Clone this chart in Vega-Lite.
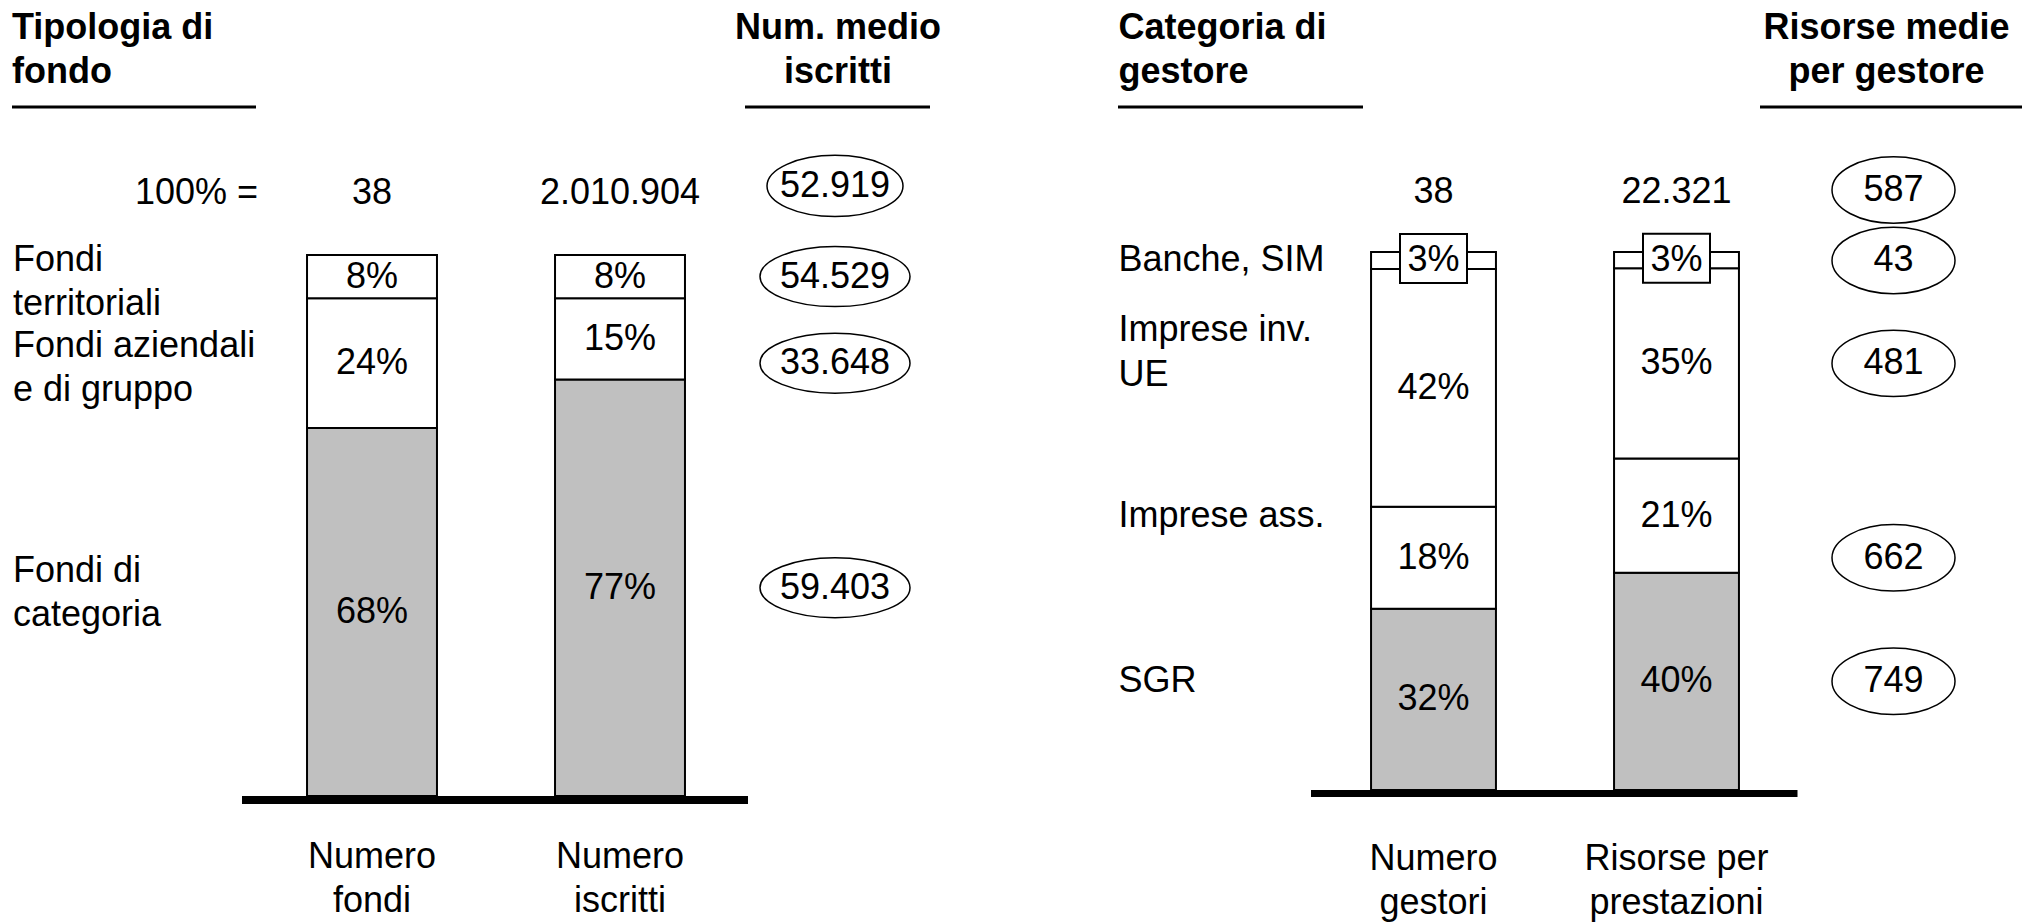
{
  "$schema": "https://vega.github.io/schema/vega-lite/v6.json",
  "padding": 0,
  "spacing": 77,
  "bounds": "flush",
  "config": {
    "view": {"stroke": null},
    "locale": {"number": {"decimal": ",", "thousands": ".", "grouping": [3], "currency": ["", " €"]}},
    "text": {"font": "Liberation Sans", "fontSize": 36, "fill": "black"}
  },
  "datasets": {
    "segL": [
      {"col": "Numero fondi", "cat": "Fondi di categoria", "level": 1, "pct": 0.68},
      {"col": "Numero fondi", "cat": "Fondi aziendali e di gruppo", "level": 2, "pct": 0.24},
      {"col": "Numero fondi", "cat": "Fondi territoriali", "level": 3, "pct": 0.08},
      {"col": "Numero iscritti", "cat": "Fondi di categoria", "level": 1, "pct": 0.77},
      {"col": "Numero iscritti", "cat": "Fondi aziendali e di gruppo", "level": 2, "pct": 0.15},
      {"col": "Numero iscritti", "cat": "Fondi territoriali", "level": 3, "pct": 0.08}
    ],
    "rowsL": [
      {"cat": "Fondi territoriali", "label": "Fondi\nterritoriali", "avg": 54529, "labelRef": "Numero fondi", "avgRef": "Numero fondi"},
      {"cat": "Fondi aziendali e di gruppo", "label": "Fondi aziendali\ne di gruppo", "avg": 33648, "labelRef": "Numero fondi", "avgRef": "Numero fondi"},
      {"cat": "Fondi di categoria", "label": "Fondi di\ncategoria", "avg": 59403, "labelRef": "Numero iscritti", "avgRef": "Numero iscritti"}
    ],
    "totL": [
      {"col": "Numero fondi", "name": "Numero\nfondi", "total": 38},
      {"col": "Numero iscritti", "name": "Numero\niscritti", "total": 2010904}
    ],
    "avgL": [{"avg": 52919}],
    "segR": [
      {"col": "Numero gestori", "cat": "SGR", "level": 1, "pct": 0.32},
      {"col": "Numero gestori", "cat": "Imprese ass.", "level": 2, "pct": 0.18},
      {"col": "Numero gestori", "cat": "Imprese inv. UE", "level": 3, "pct": 0.42},
      {"col": "Numero gestori", "cat": "Banche, SIM", "level": 4, "pct": 0.03},
      {"col": "Risorse per prestazioni", "cat": "SGR", "level": 1, "pct": 0.40},
      {"col": "Risorse per prestazioni", "cat": "Imprese ass.", "level": 2, "pct": 0.21},
      {"col": "Risorse per prestazioni", "cat": "Imprese inv. UE", "level": 3, "pct": 0.35},
      {"col": "Risorse per prestazioni", "cat": "Banche, SIM", "level": 4, "pct": 0.03}
    ],
    "rowsR": [
      {"cat": "Banche, SIM", "label": "Banche, SIM", "lines": 1, "avg": 43, "labelRef": "Numero gestori", "avgRef": "Numero gestori"},
      {"cat": "Imprese inv. UE", "label": "Imprese inv.\nUE", "lines": 2, "avg": 481, "labelRef": "Risorse per prestazioni", "avgRef": "Risorse per prestazioni"},
      {"cat": "Imprese ass.", "label": "Imprese ass.", "lines": 1, "avg": 662, "labelRef": "Risorse per prestazioni", "avgRef": "Numero gestori"},
      {"cat": "SGR", "label": "SGR", "lines": 1, "avg": 749, "labelRef": "Risorse per prestazioni", "avgRef": "Risorse per prestazioni"}
    ],
    "totR": [
      {"col": "Numero gestori", "name": "Numero\ngestori", "total": 38},
      {"col": "Risorse per prestazioni", "name": "Risorse per\nprestazioni", "total": 22321}
    ],
    "avgR": [{"avg": 587}]
  },
  "hconcat": [
    {
      "width": 992,
      "height": 923,
      "layer": [
        {
          "data": {"name": "segL"},
          "transform": [
            {"stack": "pct", "groupby": ["col"], "sort": [{"field": "level", "order": "ascending"}], "offset": "normalize", "as": ["s0", "s1"]}
          ],
          "mark": {"type": "bar", "width": {"band": 0.524}, "stroke": "black", "strokeWidth": 2},
          "encoding": {
            "x": {"field": "col", "type": "nominal", "scale": {"type": "band", "domain": ["lab", "Numero fondi", "Numero iscritti", "avg"], "paddingInner": 0, "paddingOuter": 0}, "axis": null},
            "y": {"field": "s0", "type": "quantitative", "scale": {"domain": [-0.2348, 1.4713], "nice": false, "zero": false}, "axis": null},
            "y2": {"field": "s1"},
            "fill": {"condition": {"test": "datum.level === 1", "value": "#c0c0c0"}, "value": "white"}
          }
        },
        {
          "data": {"name": "segL"},
          "transform": [
            {"stack": "pct", "groupby": ["col"], "sort": [{"field": "level", "order": "ascending"}], "offset": "normalize", "as": ["s0", "s1"]},
            {"fold": ["s0", "s1"], "as": ["edge", "pos"]},
            {"aggregate": [{"op": "mean", "field": "pos", "as": "mid"}], "groupby": ["col", "cat", "level", "pct"]}
          ],
          "mark": {"type": "text", "baseline": "middle"},
          "encoding": {
            "x": {"field": "col", "type": "nominal", "scale": {"type": "band", "domain": ["lab", "Numero fondi", "Numero iscritti", "avg"], "paddingInner": 0, "paddingOuter": 0}, "axis": null},
            "y": {"field": "mid", "type": "quantitative", "scale": {"domain": [-0.2348, 1.4713], "nice": false, "zero": false}, "axis": null},
            "text": {"field": "pct", "type": "quantitative", "format": ".0%"}
          }
        },
        {
          "data": {"name": "segL"},
          "transform": [
            {"stack": "pct", "groupby": ["col"], "sort": [{"field": "level", "order": "ascending"}], "offset": "normalize", "as": ["s0", "s1"]},
            {"fold": ["s0", "s1"], "as": ["edge", "pos"]},
            {"aggregate": [{"op": "mean", "field": "pos", "as": "mid"}], "groupby": ["col", "cat", "level", "pct"]},
            {"lookup": "cat", "from": {"data": {"name": "rowsL"}, "key": "cat", "fields": ["label", "avg", "labelRef", "avgRef"]}}
          ],
          "layer": [
            {
              "transform": [{"filter": "datum.col === datum.labelRef"}],
              "mark": {"type": "text", "align": "left", "baseline": "middle", "dx": -111, "dy": -17, "lineBreak": "\n", "lineHeight": 44},
              "encoding": {
                "x": {"datum": "lab", "type": "nominal", "scale": {"type": "band", "domain": ["lab", "Numero fondi", "Numero iscritti", "avg"], "paddingInner": 0, "paddingOuter": 0}, "axis": null},
                "y": {"field": "mid", "type": "quantitative", "scale": {"domain": [-0.2348, 1.4713], "nice": false, "zero": false}, "axis": null},
                "text": {"field": "label"}
              }
            },
            {
              "transform": [{"filter": "datum.col === datum.avgRef"}],
              "mark": {"type": "point", "shape": "M-1,0C-1,-0.2209,-0.5523,-0.4,0,-0.4C0.5523,-0.4,1,-0.2209,1,0C1,0.2209,0.5523,0.4,0,0.4C-0.5523,0.4,-1,0.2209,-1,0Z", "size": 22500, "filled": false, "stroke": "black", "strokeWidth": 1.5, "opacity": 1, "xOffset": -33},
              "encoding": {
                "x": {"datum": "avg", "type": "nominal", "scale": {"type": "band", "domain": ["lab", "Numero fondi", "Numero iscritti", "avg"], "paddingInner": 0, "paddingOuter": 0}, "axis": null},
                "y": {"field": "mid", "type": "quantitative", "scale": {"domain": [-0.2348, 1.4713], "nice": false, "zero": false}, "axis": null}
              }
            },
            {
              "transform": [{"filter": "datum.col === datum.avgRef"}],
              "mark": {"type": "text", "baseline": "middle", "dx": -33},
              "encoding": {
                "x": {"datum": "avg", "type": "nominal", "scale": {"type": "band", "domain": ["lab", "Numero fondi", "Numero iscritti", "avg"], "paddingInner": 0, "paddingOuter": 0}, "axis": null},
                "y": {"field": "mid", "type": "quantitative", "scale": {"domain": [-0.2348, 1.4713], "nice": false, "zero": false}, "axis": null},
                "text": {"field": "avg", "type": "quantitative", "format": ","}
              }
            }
          ]
        },
        {
          "data": {"name": "totL"},
          "layer": [
            {
              "mark": {"type": "text", "baseline": "alphabetic", "dy": -51},
              "encoding": {
                "x": {"field": "col", "type": "nominal", "scale": {"type": "band", "domain": ["lab", "Numero fondi", "Numero iscritti", "avg"], "paddingInner": 0, "paddingOuter": 0}, "axis": null},
                "y": {"datum": 1, "type": "quantitative", "scale": {"domain": [-0.2348, 1.4713], "nice": false, "zero": false}, "axis": null},
                "text": {"field": "total", "type": "quantitative", "format": ","}
              }
            },
            {
              "mark": {"type": "text", "baseline": "alphabetic", "dy": 72, "lineBreak": "\n", "lineHeight": 44},
              "encoding": {
                "x": {"field": "col", "type": "nominal", "scale": {"type": "band", "domain": ["lab", "Numero fondi", "Numero iscritti", "avg"], "paddingInner": 0, "paddingOuter": 0}, "axis": null},
                "y": {"datum": 0, "type": "quantitative", "scale": {"domain": [-0.2348, 1.4713], "nice": false, "zero": false}, "axis": null},
                "text": {"field": "name"}
              }
            }
          ]
        },
        {
          "data": {"name": "avgL"},
          "layer": [
            {
              "mark": {"type": "text", "text": "100% =", "align": "right", "baseline": "alphabetic", "dx": 134, "dy": -51},
              "encoding": {
                "x": {"datum": "lab", "type": "nominal", "scale": {"type": "band", "domain": ["lab", "Numero fondi", "Numero iscritti", "avg"], "paddingInner": 0, "paddingOuter": 0}, "axis": null},
                "y": {"datum": 1, "type": "quantitative", "scale": {"domain": [-0.2348, 1.4713], "nice": false, "zero": false}, "axis": null}
              }
            },
            {
              "mark": {"type": "point", "shape": "M-1,0C-1,-0.2485,-0.5523,-0.45,0,-0.45C0.5523,-0.45,1,-0.2485,1,0C1,0.2485,0.5523,0.45,0,0.45C-0.5523,0.45,-1,0.2485,-1,0Z", "size": 18496, "filled": false, "stroke": "black", "strokeWidth": 1.5, "opacity": 1, "xOffset": -33, "yOffset": -69},
              "encoding": {
                "x": {"datum": "avg", "type": "nominal", "scale": {"type": "band", "domain": ["lab", "Numero fondi", "Numero iscritti", "avg"], "paddingInner": 0, "paddingOuter": 0}, "axis": null},
                "y": {"datum": 1, "type": "quantitative", "scale": {"domain": [-0.2348, 1.4713], "nice": false, "zero": false}, "axis": null}
              }
            },
            {
              "mark": {"type": "text", "baseline": "middle", "dx": -33, "dy": -69},
              "encoding": {
                "x": {"datum": "avg", "type": "nominal", "scale": {"type": "band", "domain": ["lab", "Numero fondi", "Numero iscritti", "avg"], "paddingInner": 0, "paddingOuter": 0}, "axis": null},
                "y": {"datum": 1, "type": "quantitative", "scale": {"domain": [-0.2348, 1.4713], "nice": false, "zero": false}, "axis": null},
                "text": {"field": "avg", "type": "quantitative", "format": ","}
              }
            },
            {
              "mark": {"type": "text", "text": "Tipologia di\nfondo", "fontWeight": "bold", "align": "left", "baseline": "alphabetic", "dx": -112, "dy": -216, "lineBreak": "\n", "lineHeight": 44},
              "encoding": {
                "x": {"datum": "lab", "type": "nominal", "scale": {"type": "band", "domain": ["lab", "Numero fondi", "Numero iscritti", "avg"], "paddingInner": 0, "paddingOuter": 0}, "axis": null},
                "y": {"datum": 1, "type": "quantitative", "scale": {"domain": [-0.2348, 1.4713], "nice": false, "zero": false}, "axis": null}
              }
            },
            {
              "mark": {"type": "text", "text": "Num. medio\niscritti", "fontWeight": "bold", "align": "center", "baseline": "alphabetic", "dx": -30, "dy": -216, "lineBreak": "\n", "lineHeight": 44},
              "encoding": {
                "x": {"datum": "avg", "type": "nominal", "scale": {"type": "band", "domain": ["lab", "Numero fondi", "Numero iscritti", "avg"], "paddingInner": 0, "paddingOuter": 0}, "axis": null},
                "y": {"datum": 1, "type": "quantitative", "scale": {"domain": [-0.2348, 1.4713], "nice": false, "zero": false}, "axis": null}
              }
            },
            {
              "mark": {"type": "rule", "color": "black", "strokeWidth": 3, "xOffset": -112, "x2Offset": 132, "yOffset": -148},
              "encoding": {
                "x": {"datum": "lab", "type": "nominal", "scale": {"type": "band", "domain": ["lab", "Numero fondi", "Numero iscritti", "avg"], "paddingInner": 0, "paddingOuter": 0}, "axis": null},
                "x2": {"datum": "lab"},
                "y": {"datum": 1, "type": "quantitative", "scale": {"domain": [-0.2348, 1.4713], "nice": false, "zero": false}, "axis": null}
              }
            },
            {
              "mark": {"type": "rule", "color": "black", "strokeWidth": 3, "xOffset": -123, "x2Offset": 62, "yOffset": -148},
              "encoding": {
                "x": {"datum": "avg", "type": "nominal", "scale": {"type": "band", "domain": ["lab", "Numero fondi", "Numero iscritti", "avg"], "paddingInner": 0, "paddingOuter": 0}, "axis": null},
                "x2": {"datum": "avg"},
                "y": {"datum": 1, "type": "quantitative", "scale": {"domain": [-0.2348, 1.4713], "nice": false, "zero": false}, "axis": null}
              }
            },
            {
              "mark": {"type": "rule", "color": "black", "strokeWidth": 8, "xOffset": -130, "x2Offset": 128, "yOffset": 4},
              "encoding": {
                "x": {"datum": "Numero fondi", "type": "nominal", "scale": {"type": "band", "domain": ["lab", "Numero fondi", "Numero iscritti", "avg"], "paddingInner": 0, "paddingOuter": 0}, "axis": null},
                "x2": {"datum": "Numero iscritti"},
                "y": {"datum": 0, "type": "quantitative", "scale": {"domain": [-0.2348, 1.4713], "nice": false, "zero": false}, "axis": null}
              }
            }
          ]
        }
      ]
    },
    {
      "width": 972,
      "height": 923,
      "layer": [
        {
          "data": {"name": "segR"},
          "transform": [
            {"stack": "pct", "groupby": ["col"], "sort": [{"field": "level", "order": "ascending"}], "offset": "normalize", "as": ["s0", "s1"]}
          ],
          "mark": {"type": "bar", "width": {"band": 0.514}, "stroke": "black", "strokeWidth": 2},
          "encoding": {
            "x": {"field": "col", "type": "nominal", "scale": {"type": "band", "domain": ["lab", "Numero gestori", "Risorse per prestazioni", "avg"], "paddingInner": 0, "paddingOuter": 0}, "axis": null},
            "y": {"field": "s0", "type": "quantitative", "scale": {"domain": [-0.2472, 1.4684], "nice": false, "zero": false}, "axis": null},
            "y2": {"field": "s1"},
            "fill": {"condition": {"test": "datum.level === 1", "value": "#c0c0c0"}, "value": "white"}
          }
        },
        {
          "data": {"name": "segR"},
          "transform": [
            {"stack": "pct", "groupby": ["col"], "sort": [{"field": "level", "order": "ascending"}], "offset": "normalize", "as": ["s0", "s1"]},
            {"fold": ["s0", "s1"], "as": ["edge", "pos"]},
            {"aggregate": [{"op": "mean", "field": "pos", "as": "mid"}], "groupby": ["col", "cat", "level", "pct"]}
          ],
          "layer": [
            {
              "transform": [{"filter": "datum.cat === 'Banche, SIM'"}],
              "mark": {"type": "point", "shape": "M-1,-0.731L1,-0.731L1,0.731L-1,0.731Z", "size": 4489, "filled": true, "fill": "white", "stroke": "black", "strokeWidth": 2, "opacity": 1, "yOffset": -2},
              "encoding": {
                "x": {"field": "col", "type": "nominal", "scale": {"type": "band", "domain": ["lab", "Numero gestori", "Risorse per prestazioni", "avg"], "paddingInner": 0, "paddingOuter": 0}, "axis": null},
                "y": {"field": "mid", "type": "quantitative", "scale": {"domain": [-0.2472, 1.4684], "nice": false, "zero": false}, "axis": null}
              }
            },
            {
              "mark": {"type": "text", "baseline": "middle"},
              "encoding": {
                "x": {"field": "col", "type": "nominal", "scale": {"type": "band", "domain": ["lab", "Numero gestori", "Risorse per prestazioni", "avg"], "paddingInner": 0, "paddingOuter": 0}, "axis": null},
                "y": {"field": "mid", "type": "quantitative", "scale": {"domain": [-0.2472, 1.4684], "nice": false, "zero": false}, "axis": null},
                "text": {"field": "pct", "type": "quantitative", "format": ".0%"}
              }
            }
          ]
        },
        {
          "data": {"name": "segR"},
          "transform": [
            {"stack": "pct", "groupby": ["col"], "sort": [{"field": "level", "order": "ascending"}], "offset": "normalize", "as": ["s0", "s1"]},
            {"fold": ["s0", "s1"], "as": ["edge", "pos"]},
            {"aggregate": [{"op": "mean", "field": "pos", "as": "mid"}], "groupby": ["col", "cat", "level", "pct"]},
            {"lookup": "cat", "from": {"data": {"name": "rowsR"}, "key": "cat", "fields": ["label", "lines", "avg", "labelRef", "avgRef"]}}
          ],
          "layer": [
            {
              "transform": [{"filter": "datum.col === datum.labelRef && datum.lines === 1"}],
              "mark": {"type": "text", "align": "left", "baseline": "middle", "dx": -72},
              "encoding": {
                "x": {"datum": "lab", "type": "nominal", "scale": {"type": "band", "domain": ["lab", "Numero gestori", "Risorse per prestazioni", "avg"], "paddingInner": 0, "paddingOuter": 0}, "axis": null},
                "y": {"field": "mid", "type": "quantitative", "scale": {"domain": [-0.2472, 1.4684], "nice": false, "zero": false}, "axis": null},
                "text": {"field": "label"}
              }
            },
            {
              "transform": [{"filter": "datum.col === datum.labelRef && datum.lines === 2"}],
              "mark": {"type": "text", "align": "left", "baseline": "middle", "dx": -72, "dy": -33, "lineBreak": "\n", "lineHeight": 45},
              "encoding": {
                "x": {"datum": "lab", "type": "nominal", "scale": {"type": "band", "domain": ["lab", "Numero gestori", "Risorse per prestazioni", "avg"], "paddingInner": 0, "paddingOuter": 0}, "axis": null},
                "y": {"field": "mid", "type": "quantitative", "scale": {"domain": [-0.2472, 1.4684], "nice": false, "zero": false}, "axis": null},
                "text": {"field": "label"}
              }
            },
            {
              "transform": [{"filter": "datum.col === datum.avgRef"}],
              "mark": {"type": "point", "shape": "M-1,0C-1,-0.2982,-0.5523,-0.54,0,-0.54C0.5523,-0.54,1,-0.2982,1,0C1,0.2982,0.5523,0.54,0,0.54C-0.5523,0.54,-1,0.2982,-1,0Z", "size": 15129, "filled": false, "stroke": "black", "strokeWidth": 1.5, "opacity": 1, "xOffset": -26},
              "encoding": {
                "x": {"datum": "avg", "type": "nominal", "scale": {"type": "band", "domain": ["lab", "Numero gestori", "Risorse per prestazioni", "avg"], "paddingInner": 0, "paddingOuter": 0}, "axis": null},
                "y": {"field": "mid", "type": "quantitative", "scale": {"domain": [-0.2472, 1.4684], "nice": false, "zero": false}, "axis": null}
              }
            },
            {
              "transform": [{"filter": "datum.col === datum.avgRef"}],
              "mark": {"type": "text", "baseline": "middle", "dx": -26},
              "encoding": {
                "x": {"datum": "avg", "type": "nominal", "scale": {"type": "band", "domain": ["lab", "Numero gestori", "Risorse per prestazioni", "avg"], "paddingInner": 0, "paddingOuter": 0}, "axis": null},
                "y": {"field": "mid", "type": "quantitative", "scale": {"domain": [-0.2472, 1.4684], "nice": false, "zero": false}, "axis": null},
                "text": {"field": "avg", "type": "quantitative", "format": ","}
              }
            }
          ]
        },
        {
          "data": {"name": "totR"},
          "layer": [
            {
              "mark": {"type": "text", "baseline": "alphabetic", "dy": -49},
              "encoding": {
                "x": {"field": "col", "type": "nominal", "scale": {"type": "band", "domain": ["lab", "Numero gestori", "Risorse per prestazioni", "avg"], "paddingInner": 0, "paddingOuter": 0}, "axis": null},
                "y": {"datum": 1, "type": "quantitative", "scale": {"domain": [-0.2472, 1.4684], "nice": false, "zero": false}, "axis": null},
                "text": {"field": "total", "type": "quantitative", "format": ","}
              }
            },
            {
              "mark": {"type": "text", "baseline": "alphabetic", "dy": 80, "lineBreak": "\n", "lineHeight": 44},
              "encoding": {
                "x": {"field": "col", "type": "nominal", "scale": {"type": "band", "domain": ["lab", "Numero gestori", "Risorse per prestazioni", "avg"], "paddingInner": 0, "paddingOuter": 0}, "axis": null},
                "y": {"datum": 0, "type": "quantitative", "scale": {"domain": [-0.2472, 1.4684], "nice": false, "zero": false}, "axis": null},
                "text": {"field": "name"}
              }
            }
          ]
        },
        {
          "data": {"name": "avgR"},
          "layer": [
            {
              "mark": {"type": "point", "shape": "M-1,0C-1,-0.2982,-0.5523,-0.54,0,-0.54C0.5523,-0.54,1,-0.2982,1,0C1,0.2982,0.5523,0.54,0,0.54C-0.5523,0.54,-1,0.2982,-1,0Z", "size": 15129, "filled": false, "stroke": "black", "strokeWidth": 1.5, "opacity": 1, "xOffset": -26, "yOffset": -62},
              "encoding": {
                "x": {"datum": "avg", "type": "nominal", "scale": {"type": "band", "domain": ["lab", "Numero gestori", "Risorse per prestazioni", "avg"], "paddingInner": 0, "paddingOuter": 0}, "axis": null},
                "y": {"datum": 1, "type": "quantitative", "scale": {"domain": [-0.2472, 1.4684], "nice": false, "zero": false}, "axis": null}
              }
            },
            {
              "mark": {"type": "text", "baseline": "middle", "dx": -26, "dy": -62},
              "encoding": {
                "x": {"datum": "avg", "type": "nominal", "scale": {"type": "band", "domain": ["lab", "Numero gestori", "Risorse per prestazioni", "avg"], "paddingInner": 0, "paddingOuter": 0}, "axis": null},
                "y": {"datum": 1, "type": "quantitative", "scale": {"domain": [-0.2472, 1.4684], "nice": false, "zero": false}, "axis": null},
                "text": {"field": "avg", "type": "quantitative", "format": ","}
              }
            },
            {
              "mark": {"type": "text", "text": "Categoria di\ngestore", "fontWeight": "bold", "align": "left", "baseline": "alphabetic", "dx": -72, "dy": -213, "lineBreak": "\n", "lineHeight": 44},
              "encoding": {
                "x": {"datum": "lab", "type": "nominal", "scale": {"type": "band", "domain": ["lab", "Numero gestori", "Risorse per prestazioni", "avg"], "paddingInner": 0, "paddingOuter": 0}, "axis": null},
                "y": {"datum": 1, "type": "quantitative", "scale": {"domain": [-0.2472, 1.4684], "nice": false, "zero": false}, "axis": null}
              }
            },
            {
              "mark": {"type": "text", "text": "Risorse medie\nper gestore", "fontWeight": "bold", "align": "center", "baseline": "alphabetic", "dx": -33, "dy": -213, "lineBreak": "\n", "lineHeight": 44},
              "encoding": {
                "x": {"datum": "avg", "type": "nominal", "scale": {"type": "band", "domain": ["lab", "Numero gestori", "Risorse per prestazioni", "avg"], "paddingInner": 0, "paddingOuter": 0}, "axis": null},
                "y": {"datum": 1, "type": "quantitative", "scale": {"domain": [-0.2472, 1.4684], "nice": false, "zero": false}, "axis": null}
              }
            },
            {
              "mark": {"type": "rule", "color": "black", "strokeWidth": 3, "xOffset": -72.5, "x2Offset": 172.5, "yOffset": -145},
              "encoding": {
                "x": {"datum": "lab", "type": "nominal", "scale": {"type": "band", "domain": ["lab", "Numero gestori", "Risorse per prestazioni", "avg"], "paddingInner": 0, "paddingOuter": 0}, "axis": null},
                "x2": {"datum": "lab"},
                "y": {"datum": 1, "type": "quantitative", "scale": {"domain": [-0.2472, 1.4684], "nice": false, "zero": false}, "axis": null}
              }
            },
            {
              "mark": {"type": "rule", "color": "black", "strokeWidth": 3, "xOffset": -159.5, "x2Offset": 102.5, "yOffset": -145},
              "encoding": {
                "x": {"datum": "avg", "type": "nominal", "scale": {"type": "band", "domain": ["lab", "Numero gestori", "Risorse per prestazioni", "avg"], "paddingInner": 0, "paddingOuter": 0}, "axis": null},
                "x2": {"datum": "avg"},
                "y": {"datum": 1, "type": "quantitative", "scale": {"domain": [-0.2472, 1.4684], "nice": false, "zero": false}, "axis": null}
              }
            },
            {
              "mark": {"type": "rule", "color": "black", "strokeWidth": 7, "xOffset": -122.5, "x2Offset": 121, "yOffset": 3.5},
              "encoding": {
                "x": {"datum": "Numero gestori", "type": "nominal", "scale": {"type": "band", "domain": ["lab", "Numero gestori", "Risorse per prestazioni", "avg"], "paddingInner": 0, "paddingOuter": 0}, "axis": null},
                "x2": {"datum": "Risorse per prestazioni"},
                "y": {"datum": 0, "type": "quantitative", "scale": {"domain": [-0.2472, 1.4684], "nice": false, "zero": false}, "axis": null}
              }
            }
          ]
        }
      ]
    }
  ]
}
